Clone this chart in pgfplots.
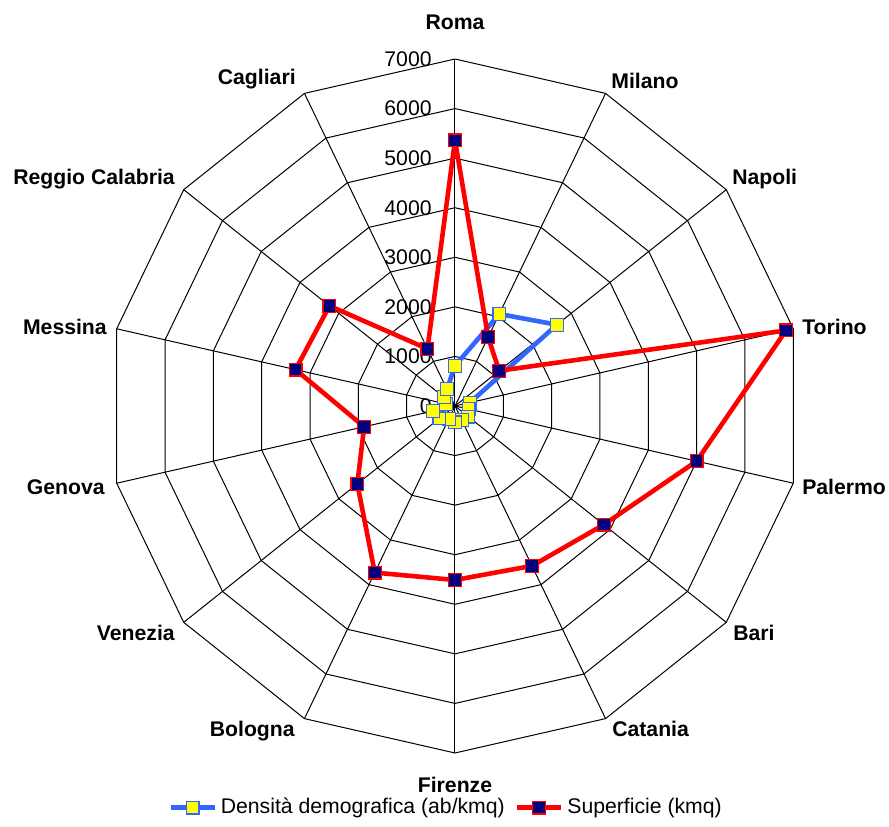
\documentclass[border=0pt]{standalone}
\usepackage{fontspec}
\setmainfont{Liberation Sans}
\usepackage{pgfplots}
\pgfplotsset{compat=1.18}
\usepgfplotslibrary{polar}
\usepackage{pgfplotstable}
\usetikzlibrary{calc}

\definecolor{serieblu}{RGB}{51,102,255}
\definecolor{seriegialla}{RGB}{255,255,0}
\definecolor{serierossa}{RGB}{255,0,0}
\definecolor{serienavy}{RGB}{0,0,128}

% angolo (gradi), densita (ab/kmq), superficie (kmq)
\pgfplotstableread{
angle  dens  sup
90        810  5360
64.2857  2060  1540
38.5714  2630  1140
12.8571   310  6850
347.1429  280  5000
321.4286  340  3840
295.7143  320  3580
270       330  3510
244.2857  290  3730
218.5714  400  2520
192.8571  460  1880
167.1429  190  3300
141.4286  290  3240
115.7143  375  1280
450       810  5360
}\citta

\begin{document}
\begin{tikzpicture}[font=\fontsize{10.6}{12.5}\selectfont]
\begin{polaraxis}[
  scale only axis,
  width=347pt,
  ymin=0, ymax=7000,
  hide axis,
  clip=false,
  legend style={draw=none, fill=none, at={(axis cs:270,8100)}, anchor=center,
    xshift=-4pt, legend columns=2,
    /tikz/every even column/.append style={column sep=3pt}},
  legend image code/.code={\draw[mark repeat=2,mark phase=2,#1]
    plot coordinates {(0pt,0pt) (11pt,0pt) (22pt,0pt)};},
]
% griglia poligonale
\pgfplotsinvokeforeach{1000,2000,3000,4000,5000,6000,7000}{
  \addplot[black, line width=0.5pt, mark=none, forget plot] coordinates {
    (90,#1) (64.2857,#1) (38.5714,#1) (12.8571,#1) (347.1429,#1) (321.4286,#1)
    (295.7143,#1) (270,#1) (244.2857,#1) (218.5714,#1) (192.8571,#1)
    (167.1429,#1) (141.4286,#1) (115.7143,#1) (90,#1)};
}
\pgfplotsinvokeforeach{90,64.2857,38.5714,12.8571,347.1429,321.4286,295.7143,
  270,244.2857,218.5714,192.8571,167.1429,141.4286,115.7143}{
  \addplot[black, line width=0.5pt, mark=none, forget plot]
    coordinates {(#1,0) (#1,7000)};
}

\addplot[serieblu, line width=2.3pt, mark=square*,
  mark options={fill=seriegialla, draw=serieblu, line width=0.6pt, mark size=3.2pt}]
  table[x=angle, y=dens] {\citta};
\addlegendentry{Densità demografica (ab/kmq)}
\addplot[serierossa, line width=2.3pt, mark=square*,
  mark options={fill=serienavy, draw=serierossa, line width=0.6pt, mark size=3.2pt}]
  table[x=angle, y=sup] {\citta};
\addlegendentry{Superficie (kmq)}

\coordinate (C) at (axis cs:0,0);

% etichette radiali
\foreach \v in {0,1000,2000,3000,4000,5000,6000,7000}{
  \edef\tmp{\noexpand\node[anchor=east, inner sep=0pt, xshift=-11.5pt]
    at (axis cs:90,\v) {\v};}
  \tmp
}

% etichette delle categorie
\begin{scope}[every node/.style={font=\fontsize{10.6}{12.5}\selectfont\bfseries, inner sep=0pt}]
\node[anchor=south, yshift=14.5pt] at (axis cs:90,7000) {Roma};
\node[anchor=south west, xshift=2.7pt, yshift=2pt] at (axis cs:64.2857,7000) {Milano};
\node[anchor=south west, xshift=2.8pt, yshift=0.3pt] at (axis cs:38.5714,7000) {Napoli};
\node[anchor=west, xshift=4.3pt, yshift=1pt] at (axis cs:12.8571,7000) {Torino};
\node[anchor=west, xshift=4.3pt, yshift=-2pt] at (axis cs:347.1429,7000) {Palermo};
\node[anchor=north west, xshift=3.3pt, yshift=-1pt] at (axis cs:321.4286,7000) {Bari};
\node[anchor=north west, xshift=3.2pt, yshift=-1.2pt] at (axis cs:295.7143,7000) {Catania};
\node[anchor=north, yshift=-12pt] at (axis cs:270,7000) {Firenze};
\node[anchor=north east, xshift=-4.7pt, yshift=-1.2pt] at (axis cs:244.2857,7000) {Bologna};
\node[anchor=north east, xshift=-4.3pt, yshift=-1pt] at (axis cs:218.5714,7000) {Venezia};
\node[anchor=east, xshift=-5.8pt, yshift=-2pt] at (axis cs:192.8571,7000) {Genova};
\node[anchor=east, xshift=-4.8pt, yshift=1pt] at (axis cs:167.1429,7000) {Messina};
\node[anchor=south east, xshift=-4.3pt, yshift=0.3pt] at (axis cs:141.4286,7000) {Reggio Calabria};
\node[anchor=south east, xshift=-4.2pt, yshift=2pt] at (axis cs:115.7143,7000) {Cagliari};
\end{scope}
\end{polaraxis}
\pgfresetboundingbox
\path[use as bounding box] ($(C)+(-227.5pt,-210pt)$) rectangle ($(C)+(217pt,203pt)$);
\end{tikzpicture}
\end{document}
